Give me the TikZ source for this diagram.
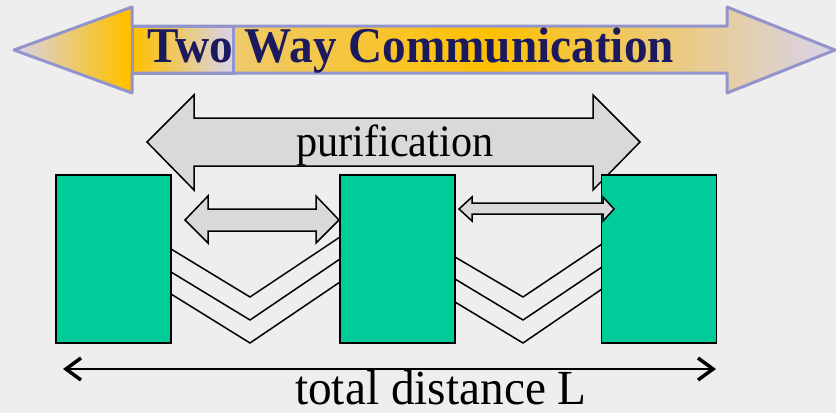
\documentclass[tikz,border=0pt]{standalone}
\usepackage{graphicx}
\usepackage{fontspec}
\setmainfont{Liberation Serif}
\usetikzlibrary{arrows.meta}
\definecolor{bg}{HTML}{EEEEEE}
\definecolor{gold}{HTML}{FFC000}
\definecolor{lav}{HTML}{D8D4EC}
\definecolor{lavedge}{HTML}{9494CC}
\definecolor{navy}{HTML}{1C1A5E}
\definecolor{beige}{HTML}{E6CD9E}
\definecolor{paleg}{HTML}{EECA6C}
\definecolor{sea}{HTML}{00CC99}
\definecolor{arrowgray}{HTML}{D9D9D9}

\begin{document}
\begin{tikzpicture}[x=1pt,y=-1pt,
  repeater/.style={draw=black, line width=1.5pt, fill=sea, minimum width=115pt,
    minimum height=168pt, inner sep=0pt},
  fatarrow/.style={draw=black, line width=1.5pt, fill=arrowgray, line join=miter},
  fiber/.style={draw=black, line width=1.5pt, line join=miter},
  label/.style={anchor=base west, inner sep=0pt},
]
\fill[bg] (0,0) rectangle (836,413);
\useasboundingbox (0,0) rectangle (836,413);

% ---- banner arrow ----
\def\bannerpath{(14,50) -- (132,7) -- (132,26) -- (727,26) -- (727,7) -- (835,50)
  -- (727,93) -- (727,73) -- (132,73) -- (132,93) -- cycle}
\begin{scope}
  \clip \bannerpath;
  \shade[left color=lav, right color=gold] (14,0) rectangle (125,100);
  \fill[gold] (124.5,0) rectangle (133.5,100);
  \shade[left color=gold, right color=lav] (133,0) rectangle (233,100);
  \shade[left color=paleg, right color=gold] (233,0) rectangle (490,100);
  \shade[left color=gold, right color=beige] (489.5,0) rectangle (720,100);
  \shade[left color=beige, right color=lav] (719.5,0) rectangle (836,100);
\end{scope}
\draw[lavedge, line width=3pt, line join=round] \bannerpath;
\draw[lavedge, line width=3pt] (132,26) rectangle (233,73);
\node[label, font=\bfseries\fontsize{50}{54}\selectfont, text=navy] (title)
  at (147,62) {\scalebox{0.945}[1]{Two Way Communication}};

% ---- purification arrow ----
\draw[fatarrow] (147,142) -- (194,95) -- (194,118) -- (593,118) -- (593,95) -- (640,142)
  -- (593,190) -- (593,166) -- (194,166) -- (194,190) -- cycle;
\node[label, font=\fontsize{45}{48}\selectfont] (purif) at (296,156)
  {\scalebox{0.94}[1]{purification}};

% ---- repeater stations ----
\node[repeater] (b1) at (113.5,259) {};
\node[repeater] (b2) at (397.5,259) {};
\node[repeater] (b3) at (659,259) {};

% ---- short links ----
\draw[fatarrow] (185,220) -- (208,196) -- (208,209) -- (316,209) -- (316,196) -- (339,220)
  -- (316,243) -- (316,231) -- (208,231) -- (208,243) -- cycle;
\draw[fatarrow] (459,209) -- (472,197) -- (472,203) -- (603,203) -- (603,197) -- (614,209)
  -- (603,221) -- (603,214) -- (472,214) -- (472,221) -- cycle;

% ---- channels ----
\draw[fiber] (171,249) -- (250,297) -- (340,237);
\draw[fiber] (171,272) -- (250,320) -- (340,259);
\draw[fiber] (171,294) -- (250,343) -- (340,282);
\draw[fiber] (455,257) -- (523,297) -- (602,244);
\draw[fiber] (455,279) -- (523,320) -- (602,267);
\draw[fiber] (455,302) -- (523,343) -- (602,289);

% ---- total distance ----
\coordinate (dl) at (63,369);
\coordinate (dr) at (716,369);
\draw[line width=2pt,
  {Straight Barb[length=15pt,width=22pt,line width=3.5pt]}-{Straight Barb[length=15pt,width=22pt,line width=3.5pt]}]
  (dl) -- (dr);
\node[label, font=\fontsize{49}{52}\selectfont] (dist) at (295,404)
  {\scalebox{0.965}[1]{total distance L}};
\end{tikzpicture}
\end{document}
